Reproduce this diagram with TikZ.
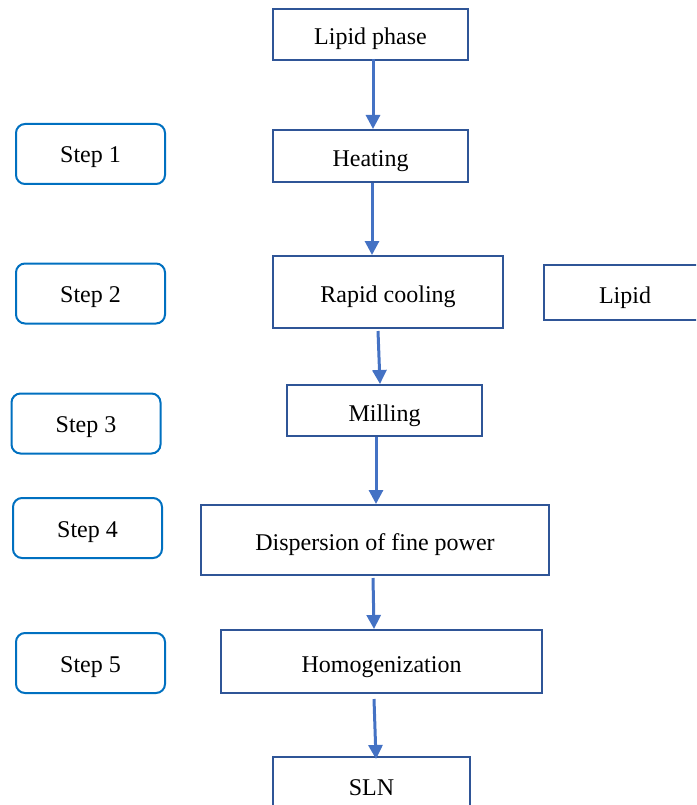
\documentclass[tikz,border=0pt]{standalone}
\usepackage{fontspec}
\setmainfont{Liberation Serif}
\usetikzlibrary{arrows.meta}
\definecolor{boxblue}{HTML}{2F5597}
\definecolor{stepblue}{HTML}{0070C0}
\definecolor{arrblue}{HTML}{4472C4}
\tikzset{
  procbox/.style={draw=boxblue, line width=2pt, fill=white, rectangle, inner sep=0pt, text height=23pt, text depth=2pt, font=\fontsize{24}{28}\selectfont},
  stepbox/.style={draw=stepblue, line width=2pt, fill=white, rectangle, rounded corners=9pt, minimum width=149pt, minimum height=60pt, inner sep=0pt, text height=20pt, text depth=2pt, font=\fontsize{24}{28}\selectfont},
  arr/.style={draw=arrblue, line width=3pt, -{Triangle[width=14pt,length=14pt]}}
}
\begin{document}
\begin{tikzpicture}[x=1pt,y=-1pt]
\useasboundingbox (0,0) rectangle (696,805);
\clip (0,0) rectangle (696,805);
% process boxes
\node[procbox, minimum width=195pt, minimum height=51pt] (lp) at (370.5,34.5) {Lipid phase};
\node[procbox, minimum width=195pt, minimum height=52pt] (heat) at (370.5,156) {Heating};
\node[procbox, minimum width=230pt, minimum height=72pt] (rc) at (388,292) {Rapid cooling};
\node[procbox, minimum width=162pt, minimum height=55pt] (lip) at (625,292.5) {Lipid};
\node[procbox, minimum width=195pt, minimum height=51pt] (mill) at (384.5,410.5) {Milling};
\node[procbox, minimum width=348pt, minimum height=70pt] (disp) at (375,540) {Dispersion of fine power};
\node[procbox, minimum width=321pt, minimum height=63pt] (hom) at (381.5,661.5) {Homogenization};
\node[procbox, minimum width=197pt, minimum height=56pt] (sln) at (371.5,785) {SLN};
% step boxes
\node[stepbox] (s1) at (90.5,154) {Step 1};
\node[stepbox] (s2) at (90.5,293.5) {Step 2};
\node[stepbox] (s3) at (86,423.5) {Step 3};
\node[stepbox] (s4) at (87.5,528) {Step 4};
\node[stepbox] (s5) at (90.5,663) {Step 5};
% arrows
\draw[arr] ([xshift=2.5pt,yshift=2pt]lp.south) -- ([xshift=2.5pt]heat.north);
\draw[arr] ([xshift=1.5pt]heat.south) -- ([xshift=-16pt]rc.north);
\draw[arr] ([xshift=-10pt,yshift=-2pt]rc.south) -- ([xshift=-4.5pt]mill.north);
\draw[arr] ([xshift=-8.5pt]mill.south) -- ([xshift=1pt]disp.north);
\draw[arr] ([xshift=-2pt,yshift=-2pt]disp.south) -- ([xshift=-7.5pt]hom.north);
\draw[arr] ([xshift=-7.5pt,yshift=-5pt]hom.south) -- ([xshift=4.5pt,yshift=-3pt]sln.north);
\end{tikzpicture}
\end{document}
